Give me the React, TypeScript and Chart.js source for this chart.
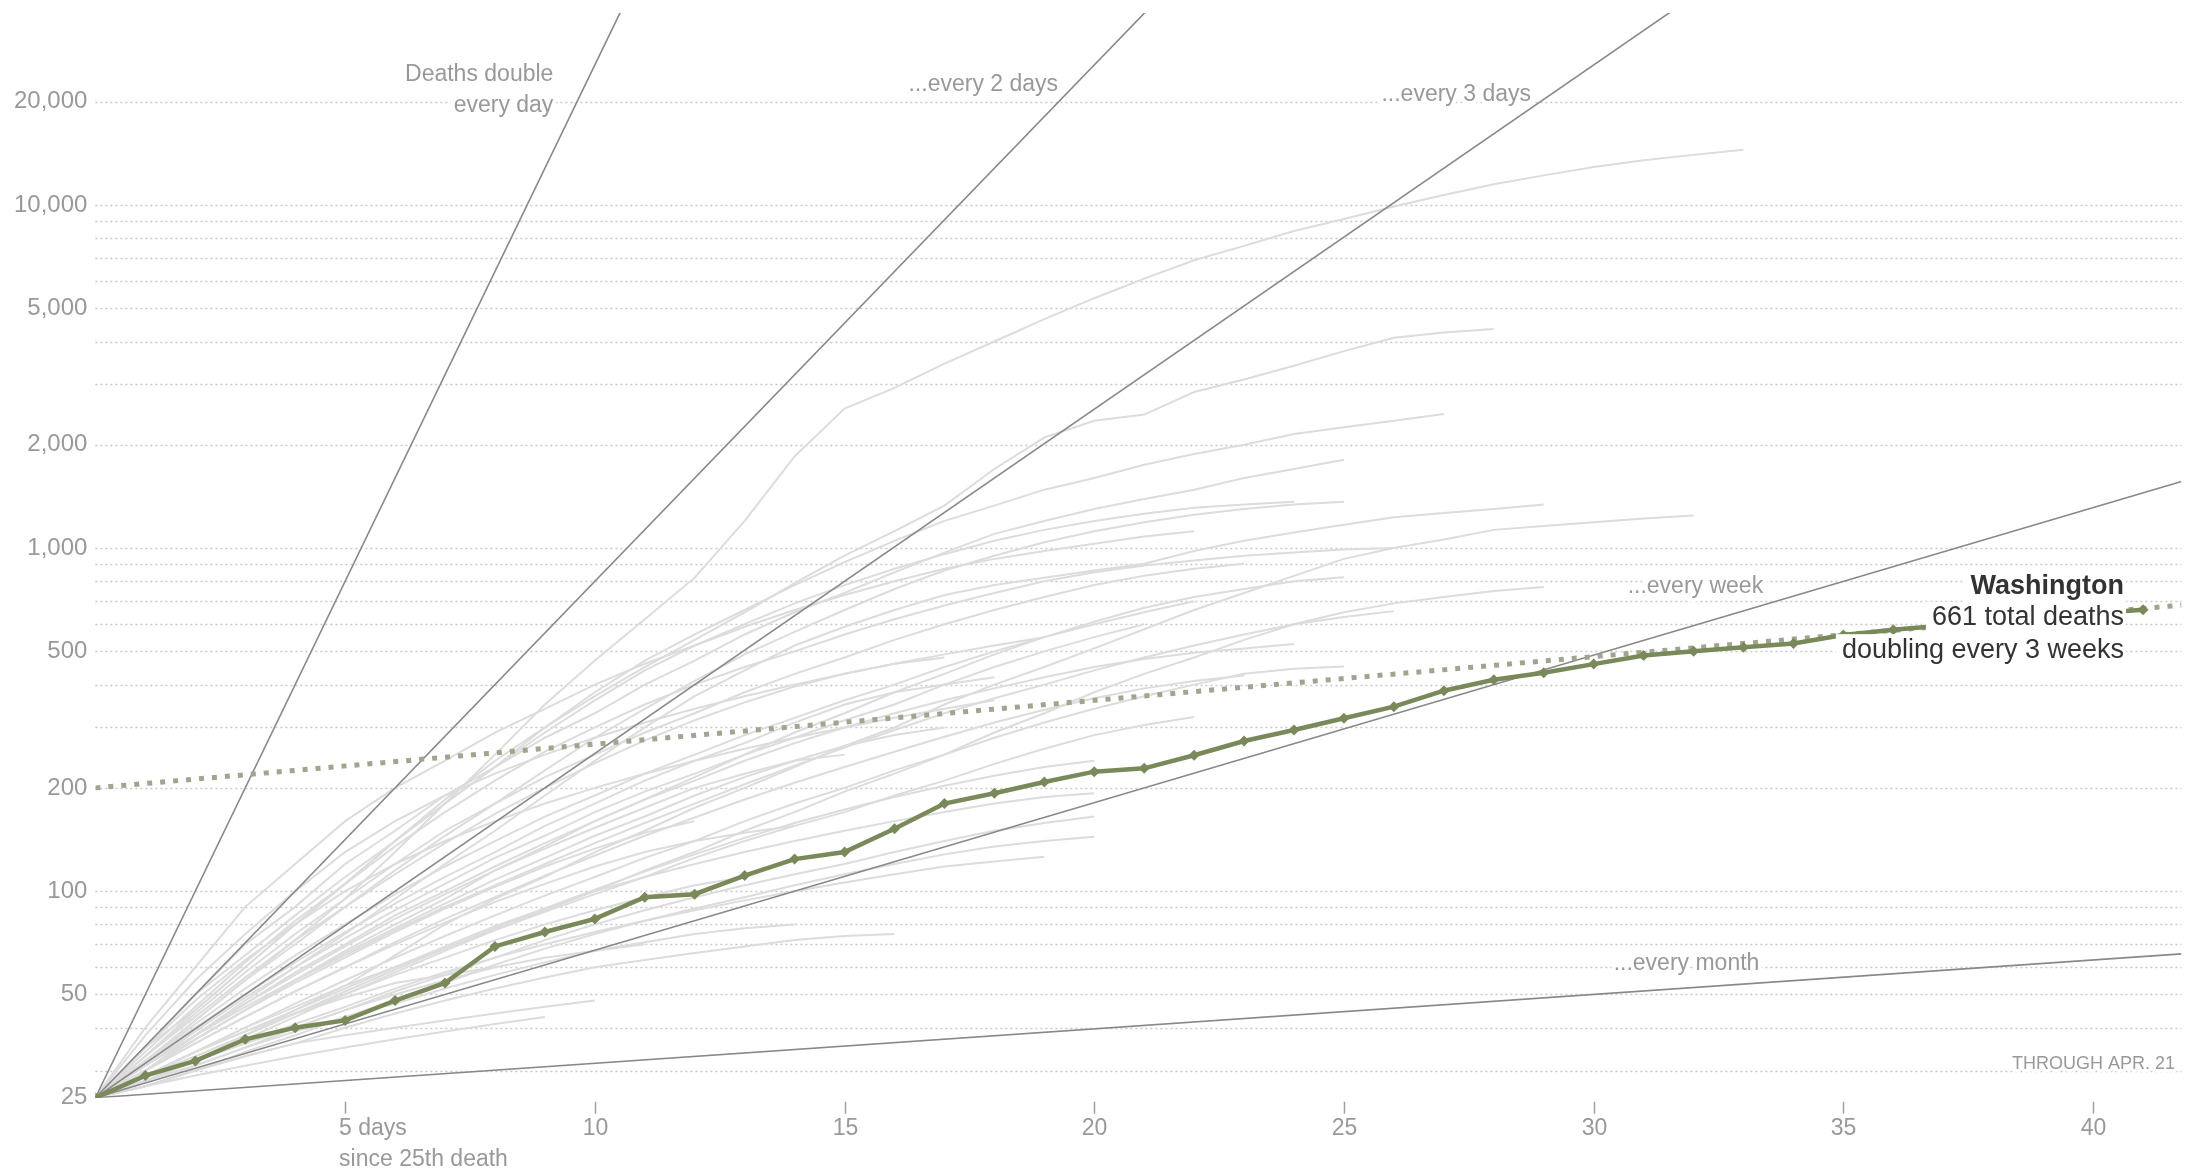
import React, { useEffect, useRef } from 'react';
import { Chart, registerables } from 'chart.js';

Chart.register(...registerables);

// ---------- DATA ----------
// Days since 25th death (index = day)
const washingtonDeaths = [
  25, 29, 32, 37, 40, 42, 48, 54, 69, 76, 83, 96, 98, 111, 124, 130, 152, 180, 193, 208, 223,
  228, 249, 274, 295, 319, 345, 384, 413, 433, 459, 486, 500, 514, 527, 558, 578, 595, 612, 628,
  645, 661,
];
const trendDays = [0, 41.77];
const trendDeaths = [200, 682];

const doublingPeriods = [1, 2, 3, 7, 30];

const otherStates: number[][] = [
  [25, 32, 42, 55, 72, 95, 130, 180, 250, 350, 470, 620, 820, 1200, 1850, 2550, 2930, 3450, 4000, 4650, 5350, 6100, 6900, 7600, 8400, 9100, 9900, 10700, 11500, 12200, 12900, 13500, 14000, 14500],
  [25, 35, 45, 60, 80, 105, 140, 185, 240, 300, 370, 450, 540, 650, 790, 950, 1120, 1330, 1700, 2100, 2350, 2450, 2850, 3100, 3400, 3750, 4100, 4250, 4350],
  [25, 35, 50, 65, 85, 110, 140, 180, 230, 300, 380, 470, 560, 660, 780, 910, 1050, 1200, 1330, 1480, 1600, 1750, 1880, 2000, 2150, 2250, 2350, 2460],
  [25, 35, 50, 70, 90, 120, 150, 190, 230, 280, 330, 400, 470, 560, 650, 740, 850, 970, 1100, 1200, 1300, 1390, 1480, 1600, 1700, 1810],
  [25, 30, 38, 48, 60, 75, 95, 120, 150, 190, 240, 300, 370, 440, 520, 590, 660, 730, 780, 820, 860, 900, 980, 1050, 1110, 1170, 1230, 1265, 1300, 1340],
  [25, 32, 42, 55, 70, 90, 115, 145, 180, 225, 280, 340, 410, 490, 570, 660, 760, 860, 950, 1040, 1120, 1190, 1250, 1300, 1340, 1365],
  [25, 33, 45, 60, 80, 105, 140, 180, 230, 290, 360, 440, 520, 600, 690, 780, 870, 960, 1050, 1130, 1200, 1260, 1310, 1340, 1365],
  [25, 28, 32, 38, 45, 53, 65, 80, 95, 110, 130, 150, 175, 200, 230, 265, 300, 350, 400, 450, 510, 580, 660, 740, 830, 930, 1000, 1060, 1130, 1160, 1190, 1220, 1245],
  [25, 30, 37, 45, 55, 67, 80, 95, 115, 135, 160, 185, 215, 250, 290, 330, 380, 430, 490, 550, 610, 670, 720, 760, 800, 822],
  [25, 28, 32, 37, 43, 50, 58, 67, 77, 88, 100, 115, 130, 150, 170, 195, 220, 250, 290, 330, 380, 430, 480, 540, 600, 650, 690, 720, 750, 770],
  [25, 30, 38, 47, 58, 70, 85, 100, 118, 138, 160, 185, 210, 240, 270, 300, 330, 360, 390, 420, 450, 475, 495, 510, 525],
  [25, 29, 34, 40, 47, 55, 64, 74, 85, 97, 110, 125, 140, 160, 180, 200, 225, 250, 280, 310, 340, 370, 400, 430, 445, 452],
  [25, 29, 34, 40, 46, 53, 60, 68, 77, 87, 98, 110, 125, 140, 155, 170, 190, 210, 235, 260, 285, 305, 322],
  [25, 28, 31, 35, 40, 45, 51, 57, 64, 72, 80, 88, 96, 104, 112, 120, 130, 140, 150, 158, 165],
  [25, 29, 34, 39, 45, 52, 60, 69, 79, 89, 100, 110, 120, 130, 140, 150, 160, 170, 180, 188, 193],
  [25, 27, 30, 34, 38, 43, 48, 54, 61, 68, 75, 82, 89, 96, 104, 112, 120, 128, 135, 140, 144],
  [25, 28, 32, 36, 41, 46, 52, 58, 64, 70, 76, 82, 88, 94, 100, 106, 112, 118, 122, 126],
  [25, 27, 30, 33, 36, 40, 44, 48, 52, 56, 60, 63, 66, 69, 72, 74, 75],
  [25, 27, 30, 33, 36, 38, 40, 42, 44, 46, 48],
  [25, 27, 29, 31, 33, 35, 37, 39, 41, 43],
  [25, 28, 31, 35, 39, 43, 47, 52, 57, 62, 67, 71, 75, 78, 80],
  [25, 33, 44, 58, 75, 95, 120, 150, 180, 215, 250, 290, 330, 380, 430, 480, 540, 600, 660, 720, 780, 830, 870, 900],
  [25, 32, 41, 52, 65, 80, 98, 118, 140, 165, 190, 220, 250, 285, 320, 360, 400, 450, 500, 550, 600, 650, 700],
  [25, 31, 39, 49, 60, 73, 88, 105, 125, 145, 170, 195, 220, 250, 280, 315, 350, 400, 450, 500, 550, 600],
  [25, 32, 40, 50, 62, 76, 92, 110, 130, 155, 180, 210, 240, 270, 310, 350, 380, 400, 420],
  [25, 30, 37, 45, 55, 66, 78, 92, 108, 125, 145, 165, 190, 215, 240, 265, 285, 300],
  [25, 31, 38, 47, 57, 69, 83, 98, 115, 133, 153, 175, 200, 220, 240, 250],
  [25, 30, 37, 45, 54, 64, 76, 89, 103, 118, 133, 148, 160],
  [25, 29, 33, 38, 44, 50, 57, 64, 72, 80, 88, 96, 104, 110],
  [25, 28, 32, 36, 40, 45, 50, 55, 60, 64, 67, 70],
  [25, 29, 34, 39, 44, 49, 54, 57, 60],
  [25, 34, 46, 62, 82, 105, 135, 170, 210, 255, 300, 350, 400, 450, 500, 560, 620, 680, 740, 800, 850, 890, 920, 950, 970, 990, 1000],
  [25, 40, 60, 90, 120, 160, 200, 240, 290, 340, 400, 460, 520, 590, 660, 730, 800, 870, 930, 980, 1030, 1080, 1120],
  [25, 38, 55, 75, 100, 130, 160, 190, 220, 250, 280, 310, 340, 370, 400, 430, 460, 490, 520, 550],
  [25, 35, 48, 63, 80, 100, 120, 140, 160, 180, 200, 220, 240, 260, 280, 300, 320, 340, 360],
  [25, 31, 38, 46, 55, 65, 77, 90, 104, 120, 138, 158, 180, 205, 232, 262, 295, 330, 365, 400, 440, 480, 520, 560, 600, 630, 655],
  [25, 30, 36, 43, 51, 60, 71, 83, 96, 111, 127, 145, 164, 185, 207, 230, 255, 282, 310, 338, 365, 390, 410, 425],
  [25, 33, 43, 56, 72, 90, 112, 138, 168, 200, 236, 275, 315, 355, 395, 430, 460, 480],
  [25, 29, 33, 38, 44, 51, 59, 68, 78, 89, 101, 114, 128, 143, 158, 173, 188, 203, 217, 230, 240],
  [25, 30, 36, 43, 51, 60, 70, 81, 93, 105, 118, 130, 140, 148, 155],
];

const yLabelValues = [25, 50, 100, 200, 500, 1000, 2000, 5000, 10000, 20000];
const gridValues = [
  30, 40, 50, 60, 70, 80, 90, 100, 200, 300, 400, 500, 600, 700, 800, 900,
  1000, 2000, 3000, 4000, 5000, 6000, 7000, 8000, 9000, 10000, 20000,
];
const xTickValues = [5, 10, 15, 20, 25, 30, 35, 40];

const X_MAX = 41.77;
const Y_MIN = 25;
const Y_MAX = 36280;

// ---------- STYLE ----------
const FONT = "'Liberation Sans', Arial, sans-serif";
const GRAY_TEXT = '#999999';
const GREEN = '#7a895a';

function drawLabel(
  ctx: CanvasRenderingContext2D,
  text: string,
  px: number,
  py: number,
  align: CanvasTextAlign,
  font: string,
  color: string,
  halo = 0,
) {
  ctx.font = font;
  ctx.textAlign = align;
  ctx.textBaseline = 'middle';
  if (halo > 0) {
    ctx.lineJoin = 'round';
    ctx.lineWidth = halo;
    ctx.strokeStyle = '#ffffff';
    ctx.strokeText(text, px, py);
  }
  ctx.fillStyle = color;
  ctx.fillText(text, px, py);
}

const overlayPlugin = {
  id: 'overlay',
  beforeDatasetsDraw(chart: any) {
    const { ctx, chartArea, scales } = chart;
    const y = scales.y;
    ctx.save();
    ctx.strokeStyle = '#c8c8c8';
    ctx.lineWidth = 1.5;
    ctx.setLineDash([2, 3]);
    for (const v of gridValues) {
      const py = Math.round(y.getPixelForValue(v)) + 0.5;
      ctx.beginPath();
      ctx.moveTo(chartArea.left, py);
      ctx.lineTo(chartArea.right, py);
      ctx.stroke();
    }
    ctx.restore();
  },
  afterDatasetsDraw(chart: any) {
    const { ctx, chartArea, scales } = chart;
    const x = scales.x;
    const y = scales.y;
    const X = (v: number) => x.getPixelForValue(v);
    const Y = (v: number) => y.getPixelForValue(v);
    ctx.save();

    // y labels
    for (const v of yLabelValues) {
      drawLabel(ctx, v.toLocaleString('en-US'), chartArea.left - 8, Y(v), 'right', `24px ${FONT}`, GRAY_TEXT);
    }

    // x ticks + labels
    ctx.strokeStyle = '#a0a0a0';
    ctx.lineWidth = 1.5;
    for (const v of xTickValues) {
      const px = Math.round(X(v)) + 0.5;
      ctx.beginPath();
      ctx.moveTo(px, chartArea.bottom + 4);
      ctx.lineTo(px, chartArea.bottom + 16);
      ctx.stroke();
      if (v === 5) {
        ctx.font = `23px ${FONT}`;
        const half = ctx.measureText('5').width / 2;
        drawLabel(ctx, '5 days', px - half, chartArea.bottom + 31, 'left', `23px ${FONT}`, GRAY_TEXT);
        drawLabel(ctx, 'since 25th death', px - half, chartArea.bottom + 62, 'left', `23px ${FONT}`, GRAY_TEXT);
      } else {
        drawLabel(ctx, String(v), px, chartArea.bottom + 31, 'center', `23px ${FONT}`, GRAY_TEXT);
      }
    }

    // doubling annotations
    const f = `23px ${FONT}`;
    drawLabel(ctx, 'Deaths double', X(9.17), Y(24000), 'right', f, GRAY_TEXT, 8);
    drawLabel(ctx, 'every day', X(9.17), Y(19500), 'right', f, GRAY_TEXT, 8);
    drawLabel(ctx, '...every 2 days', X(16.28), Y(22500), 'left', f, GRAY_TEXT, 8);
    drawLabel(ctx, '...every 3 days', X(25.75), Y(21000), 'left', f, GRAY_TEXT, 8);
    drawLabel(ctx, '...every week', X(30.68), Y(770), 'left', f, GRAY_TEXT, 8);
    drawLabel(ctx, '...every month', X(30.4), Y(61.3), 'left', f, GRAY_TEXT, 8);
    drawLabel(ctx, 'THROUGH APR. 21', X(41.64), Y(31.4), 'right', `18px ${FONT}`, GRAY_TEXT, 6);

    // Washington label with white boxes
    const wx = X(40.62);
    const lines: [string, number, string][] = [
      ['Washington', Y(770), `bold 27px ${FONT}`],
      ['661 total deaths', Y(626), `27px ${FONT}`],
      ['doubling every 3 weeks', Y(504), `27px ${FONT}`],
    ];
    for (const [t, py, font] of lines) {
      ctx.font = font;
      const w = ctx.measureText(t).width;
      ctx.fillStyle = '#ffffff';
      ctx.fillRect(wx - w - 6, py - 16, w + 8, 32);
    }
    for (const [t, py, font] of lines) {
      drawLabel(ctx, t, wx, py, 'right', font, '#333333');
    }
    ctx.restore();
  },
};

export default function App() {
  const canvasRef = useRef<HTMLCanvasElement | null>(null);

  useEffect(() => {
    const canvas = canvasRef.current;
    if (!canvas) return;

    const grayDatasets = otherStates.map((vals) => ({
      data: vals.map((v, i) => ({ x: i, y: v })),
      borderColor: '#dcdcdc',
      borderWidth: 2,
      pointRadius: 0,
      tension: 0,
      order: 4,
    }));

    const refDatasets = doublingPeriods.map((d) => ({
      data: [
        { x: 0, y: Y_MIN },
        { x: X_MAX, y: Y_MIN * Math.pow(2, X_MAX / d) },
      ],
      borderColor: '#888888',
      borderWidth: 1.6,
      pointRadius: 0,
      order: 3,
    }));

    const trendDataset = {
      data: trendDays.map((d, i) => ({ x: d, y: trendDeaths[i] })),
      borderColor: '#a1a58f',
      borderWidth: 5,
      borderDash: [5, 8],
      pointRadius: 0,
      order: 2,
    };

    const waDataset = {
      data: washingtonDeaths.map((v, i) => ({ x: i, y: v })),
      borderColor: GREEN,
      backgroundColor: GREEN,
      borderWidth: 4.5,
      pointStyle: 'rectRot',
      pointRadius: 5.5,
      pointBackgroundColor: GREEN,
      pointBorderColor: GREEN,
      pointBorderWidth: 0,
      order: 1,
    };

    const chart = new Chart(canvas, {
      type: 'line',
      data: { datasets: [waDataset, trendDataset, ...refDatasets, ...grayDatasets] as any },
      options: {
        responsive: false,
        animation: false,
        devicePixelRatio: 1,
        events: [],
        layout: { padding: { left: 95.4, right: 0, top: 13, bottom: 75.3 } },
        plugins: { legend: { display: false }, tooltip: { enabled: false } },
        scales: {
          x: { type: 'linear', min: 0, max: X_MAX, display: false },
          y: { type: 'logarithmic', min: Y_MIN, max: Y_MAX, display: false },
        },
      },
      plugins: [overlayPlugin],
    });
    return () => chart.destroy();
  }, []);

  return (
    <div style={{ position: 'fixed', left: 0, top: 0, width: 2187, height: 1173, background: '#ffffff' }}>
      <canvas ref={canvasRef} width={2187} height={1173} style={{ display: 'block', width: 2187, height: 1173 }} />
    </div>
  );
}
